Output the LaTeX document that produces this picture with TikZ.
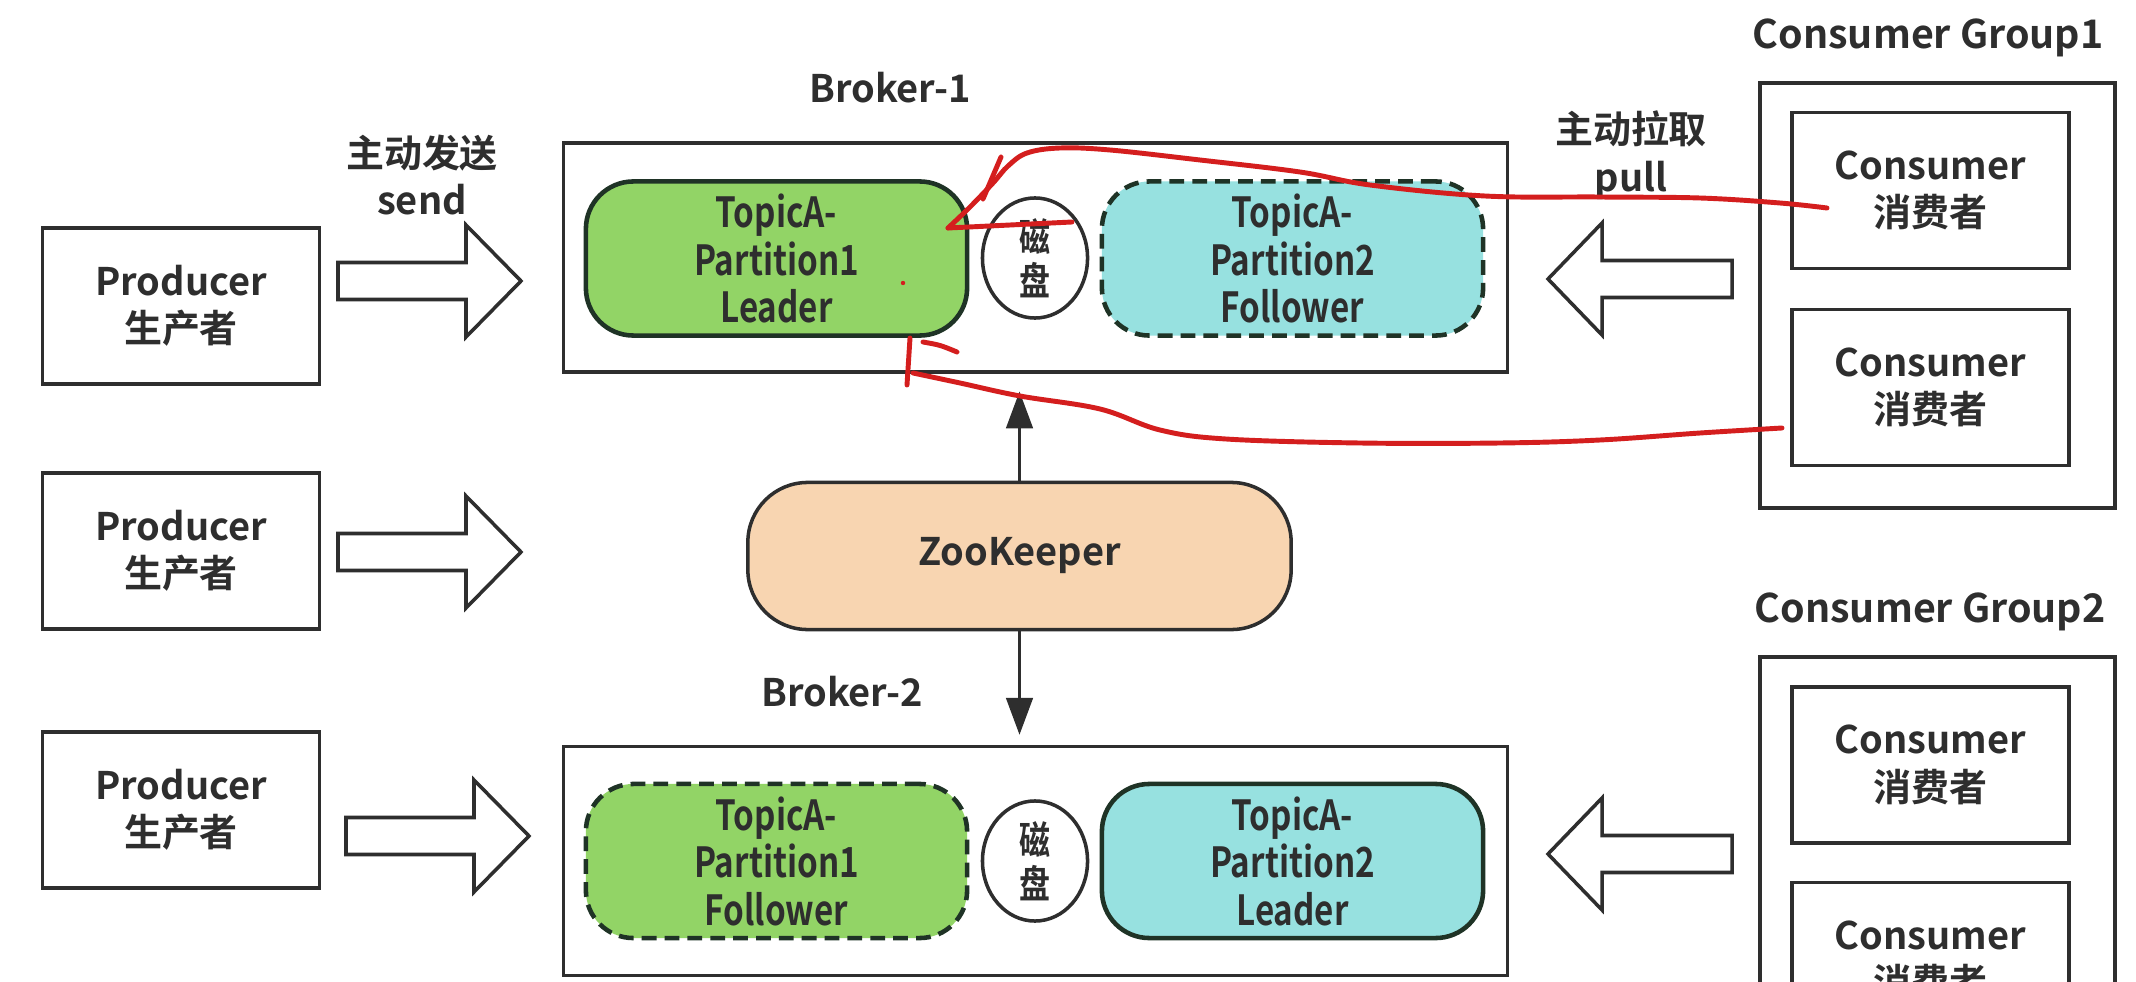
\documentclass[tikz,border=0pt]{standalone}
\usepackage{fontspec}
\setmainfont{Noto Sans CJK SC Bold}
\newfontfamily\narrowfont{Noto Sans CJK SC Bold}[FakeStretch=0.8]
\usetikzlibrary{arrows.meta,shapes.geometric}
\definecolor{ink}{HTML}{2E2E2E}
\definecolor{leafgreen}{HTML}{92D466}
\definecolor{aqua}{HTML}{97E1E0}
\definecolor{peach}{HTML}{F8D5B1}
\definecolor{annot}{HTML}{D41E1E}
\definecolor{edgegreen}{HTML}{1F3326}
\tikzset{
  txt/.style={text=ink, font=\fontsize{10.8}{13.5}\selectfont, align=center},
  plainbox/.style={draw=ink, line width=1pt, fill=white, inner sep=0pt, txt},
  actor/.style={plainbox, minimum width=2.77cm, minimum height=1.56cm},
  brokerbox/.style={draw=ink, line width=1pt, minimum width=9.43cm, minimum height=2.29cm, inner sep=0pt},
  partbox/.style={draw=edgegreen, line width=1.3pt, rounded corners=13.5pt, minimum width=3.81cm, minimum height=1.54cm, inner sep=0pt, txt, font=\narrowfont\fontsize{11.8}{13.5}\selectfont},
  dashedpart/.style={partbox, dash pattern=on 4.2pt off 2.3pt},
  diskbox/.style={ellipse, draw=ink, line width=1pt, fill=white, minimum width=1.05cm, minimum height=1.2cm, inner sep=0pt, txt, font=\narrowfont\fontsize{11}{12.5}\selectfont},
  zkarrow/.style={draw=ink, line width=1pt, -{Triangle[length=10.5pt,width=7.5pt]}},
  hollow/.style={draw=ink, line width=1pt, fill=white, line join=miter},
  annotline/.style={draw=annot, line width=1.4pt, line cap=round, line join=round},
  rarrow/.pic={\draw[hollow] (0,-18.5) -- (128,-18.5) -- (128,-56) -- (183,0) -- (128,56) -- (128,18.5) -- (0,18.5) -- cycle;},
  larrow/.pic={\draw[hollow] (0,0) -- (54,-56) -- (54,-18.5) -- (184,-18.5) -- (184,18.5) -- (54,18.5) -- (54,56) -- cycle;}
}
\begin{document}
\begin{tikzpicture}[x=0.01cm,y=-0.01cm]
\useasboundingbox (0,0) rectangle (2136,982);
\fill[white] (0,0) rectangle (2136,982);
\clip (0,0) rectangle (2136,982);

% producers
\node[actor] (p1) at (181,306) {Producer\\生产者};
\node[actor] (p2) at (181,551) {Producer\\生产者};
\node[actor] (p3) at (181,810) {Producer\\生产者};

% hollow send arrows
\pic at (338,281) {rarrow};
\pic at (338,552) {rarrow};
\pic at (346,836) {rarrow};
\node[txt] (sendlbl) at (422,175) {主动发送\\send};

% brokers
\node[txt] (b1lbl) at (890,88) {Broker-1};
\node[brokerbox] (b1) at (1035.5,257.5) {};
\node[partbox, fill=leafgreen] (b1p1) at (776.5,258.5) {TopicA-\\Partition1\\Leader};
\node[diskbox] (b1disk) at (1035,258) {磁\\盘};
\node[dashedpart, fill=aqua] (b1p2) at (1292.5,258.5) {TopicA-\\Partition2\\Follower};

\node[txt] (b2lbl) at (842,692) {Broker-2};
\node[brokerbox] (b2) at (1035.5,861) {};
\node[dashedpart, fill=leafgreen] (b2p1) at (776.5,861) {TopicA-\\Partition1\\Follower};
\node[diskbox] (b2disk) at (1035,861) {磁\\盘};
\node[partbox, fill=aqua] (b2p2) at (1292.5,861) {TopicA-\\Partition2\\Leader};

% zookeeper
\node[plainbox, fill=peach, rounded corners=17pt, minimum width=5.43cm, minimum height=1.47cm] (zk) at (1019.5,556) {ZooKeeper};
\draw[zkarrow, shorten >=5pt] (zk.north) -- (zk.north |- b1.south);
\draw[zkarrow, shorten >=2.8pt] (zk.south) -- (zk.south |- b2.north);

% pull arrows
\pic at (1548,279) {larrow};
\pic at (1548,854) {larrow};
\node[txt] (pulllbl) at (1631,155) {主动拉取\\pull};

% consumer groups
\node[txt, font=\fontsize{11.2}{14}\selectfont] (g1lbl) at (1928,38) {Consumer Group1};
\node[draw=ink, line width=1pt, minimum width=3.55cm, minimum height=4.25cm] (g1) at (1937.5,295.5) {};
\node[actor] (c1) at (1930.5,190.5) {Consumer\\消费者};
\node[actor] (c2) at (1930.5,387.5) {Consumer\\消费者};

\node[txt, font=\fontsize{11.2}{14}\selectfont] (g2lbl) at (1930,612) {Consumer Group2};
\node[draw=ink, line width=1pt, minimum width=3.55cm, minimum height=4.43cm] (g2) at (1937.5,878.5) {};
\node[actor] (c3) at (1930.5,765) {Consumer\\消费者};
\node[actor] (c4) at (1930.5,960.5) {Consumer\\消费者};

% red hand annotations
\draw[annotline] plot[smooth, tension=0.6] coordinates {(1827,208) (1780,203) (1700,198) (1600,197) (1485,196) (1370,185) (1300,172) (1200,160) (1110,150) (1060,148) (1027,153) (1008,166) (993,183) (970,207) (948,228)};
\draw[annotline] (948,228) -- (1072,222);
\draw[annotline] (1001,157) -- (983,199);
\draw[annotline] (907,385) -- (910,338);
\draw[annotline] plot[smooth, tension=0.6] coordinates {(913,373) (960,383) (1020,396) (1100,409) (1160,430) (1226,439) (1360,443) (1500,443) (1600,440) (1700,433) (1782,428)};
\draw[annotline] (923,342) .. controls (940,345) .. (957,352);
\fill[annot] (903,283) circle (2.2);
\end{tikzpicture}
\end{document}
